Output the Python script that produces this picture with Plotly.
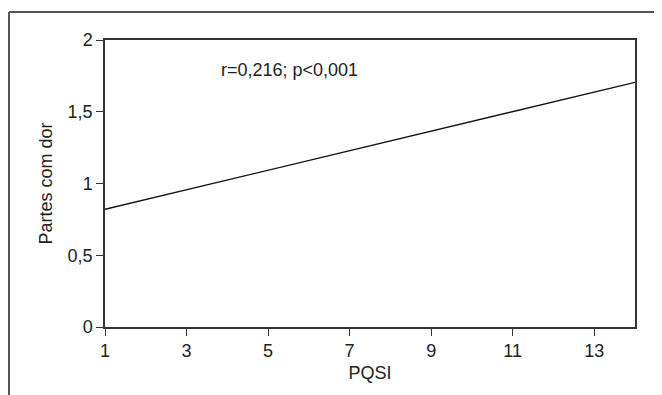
import plotly.graph_objects as go

# Data
pqsi = [1, 14]
partes_com_dor = [0.82, 1.705]
x_tick_vals = [1, 3, 5, 7, 9, 11, 13]
y_tick_vals = [0, 0.5, 1, 1.5, 2]
y_tick_text = ["0", "0,5", "1", "1,5", "2"]
annotation_text = "r=0,216; p<0,001"

OFF = 8  # default page body margin
W, H = 662 - OFF, 395 - OFF
L, R, T, B = 105 - OFF, 27, 40 - OFF, 68
pw, ph = W - L - R, H - T - B

def px_to_paper_x(px):
    return (px - OFF - L) / pw

def px_to_paper_y(py):
    return (H - B - (py - OFF)) / ph

FONT = "Liberation Sans, Arial, sans-serif"
TXT = "#222222"
fig = go.Figure()
fig.add_trace(go.Scatter(
    x=pqsi, y=partes_com_dor, mode="lines",
    line=dict(color="#111111", width=1.4),
    showlegend=False, hoverinfo="skip"
))

axis_common = dict(
    showline=True, linecolor="#333333", linewidth=1.5, mirror=True,
    showgrid=False, zeroline=False, ticks="outside", ticklen=7,
    tickcolor="#333333", tickwidth=1.3,
    tickfont=dict(family=FONT, size=18, color=TXT),
)

fig.update_xaxes(
    range=[1, 14], tickvals=x_tick_vals,
    title=dict(text="PQSI", font=dict(family=FONT, size=18, color=TXT), standoff=6),
    **axis_common
)
fig.update_yaxes(
    range=[0, 2], tickvals=y_tick_vals, ticktext=y_tick_text,
    title=dict(text="Partes com dor", font=dict(family=FONT, size=18, color=TXT), standoff=10),
    **axis_common
)

fig.add_annotation(
    x=px_to_paper_x(219), y=px_to_paper_y(70), xref="paper", yref="paper",
    text=annotation_text, showarrow=False, xanchor="left", yanchor="middle",
    font=dict(family=FONT, size=18, color=TXT)
)

# Outer frame (top and left edges)
frame_color = "#555555"
fig.add_shape(type="line", xref="paper", yref="paper",
              x0=px_to_paper_x(9), y0=px_to_paper_y(12), x1=px_to_paper_x(700), y1=px_to_paper_y(12),
              line=dict(color=frame_color, width=2))
fig.add_shape(type="line", xref="paper", yref="paper",
              x0=px_to_paper_x(9), y0=px_to_paper_y(12), x1=px_to_paper_x(9), y1=px_to_paper_y(420),
              line=dict(color=frame_color, width=2))

fig.update_layout(
    width=W, height=H,
    margin=dict(l=L, r=R, t=T, b=B),
    plot_bgcolor="white", paper_bgcolor="white",
    font=dict(family=FONT),
)

fig.write_html("out.html")
